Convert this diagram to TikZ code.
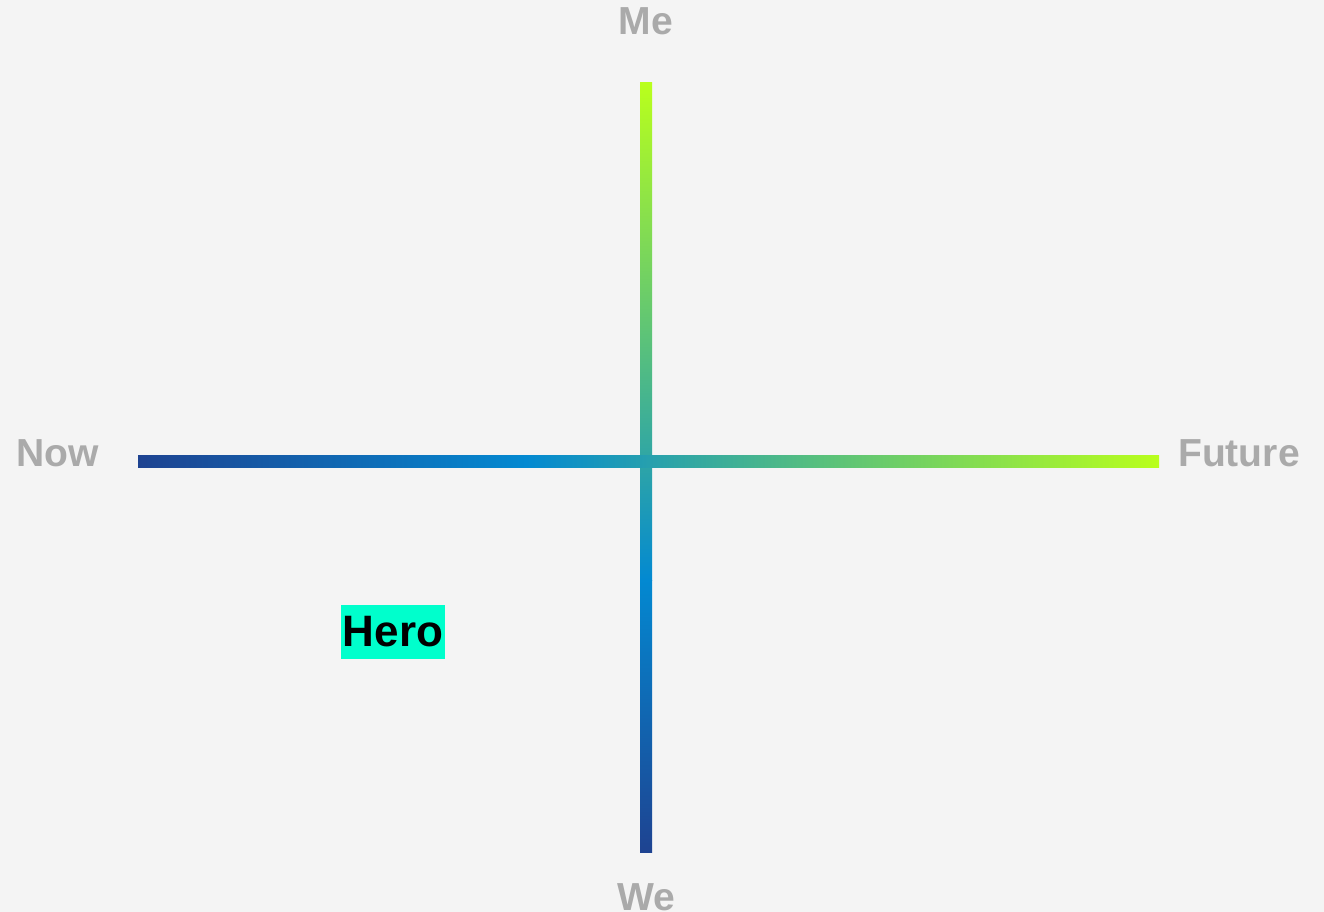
\documentclass[tikz,border=0pt]{standalone}
\usepackage{fontspec}
\setmainfont{Liberation Sans}
\usepackage{xcolor}
\usepackage{tikz}
\usetikzlibrary{positioning}
\definecolor{paper}{HTML}{F4F4F4}
\definecolor{axisdeep}{HTML}{1E4391}
\definecolor{axismid}{HTML}{0389D1}
\definecolor{axislime}{HTML}{B9FF1C}
\definecolor{labelgray}{HTML}{AAAAAA}
\definecolor{heromint}{HTML}{00FFCC}

\begin{document}
\begin{tikzpicture}[x=0.75pt, y=-0.75pt,
  axislabel/.style={font=\fontsize{29.3}{30}\selectfont\bfseries, text=labelgray, inner sep=0pt, anchor=base},
  herobox/.style={fill=heromint, inner sep=0pt, minimum width=78pt, minimum height=40.5pt,
    font=\fontsize{33}{34}\selectfont\bfseries, text=black}]
  % === Canvas ===
  \fill[paper] (0,0) rectangle (1324,912);
  \useasboundingbox (0,0) rectangle (1324,912);

  % === Vertical axis: We (bottom) to Me (top) ===
  \shade[bottom color=axisdeep, top color=axismid] (640,852) rectangle (652,580);
  \shade[bottom color=axismid, top color=axislime] (640,580) rectangle (652,83);

  % === Horizontal axis: Now (left) to Future (right) ===
  \shade[left color=axisdeep, right color=axismid] (138,456) rectangle (526,468);
  \shade[left color=axismid, right color=axislime] (526,456) rectangle (1159,468);

  % Axis labels
  \node[axislabel] (me) at (646,35) {Me};
  \node[axislabel] (we) at (646,910) {We};
  \node[axislabel] (now) at (58,467) {Now};
  \node[axislabel] (future) at (1239,467) {Future};

  % Marker
  \node[herobox] (hero) at (393,632) {Hero};
\end{tikzpicture}
\end{document}
